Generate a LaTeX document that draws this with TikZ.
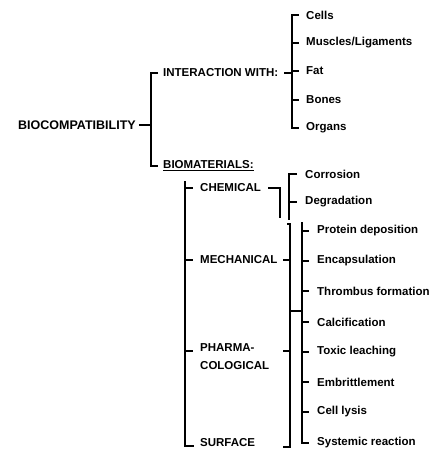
\documentclass[tikz,border=0pt]{standalone}
\usepackage{fontspec}
\setmainfont{Liberation Sans}
\usetikzlibrary{calc}

\begin{document}
\begin{tikzpicture}[x = 1pt, y = -1pt,
  lbl/.style = {anchor = west, inner sep = 0pt, align = left, font = \fontsize{11.5}{18}\selectfont\bfseries},
  big/.style = {lbl, font = \fontsize{12.5}{18}\selectfont\bfseries},
  br/.style = {line width = 1.5pt}]
\useasboundingbox (0, 0) rectangle (438, 456);
% spines of the brackets
\coordinate (spA) at (151, 0);
\coordinate (spB) at (292, 0);
\coordinate (spC) at (185, 0);
\coordinate (spE) at (289, 0);
\coordinate (spF) at (290, 0);
\coordinate (spG) at (302, 0);
% headings
\node[big] at (18, 125) (bio) {BIOCOMPATIBILITY};
\node[lbl] at (163, 73) (inter) {INTERACTION WITH:};
\node[lbl] at (163, 166) (biomat) {\underline{BIOMATERIALS:}};
\node[lbl] at (200, 188) (chem) {CHEMICAL};
\node[lbl] at (200, 260) (mech) {MECHANICAL};
\node[lbl] at (200, 357) (pharm) {PHARMA-\\COLOGICAL};
\node[lbl] at (200, 443) (surface) {SURFACE};
% leaves
\foreach \n/\y/\t in {cells/15/Cells, muscles/43/{Muscles/Ligaments}, fat/71/Fat, bones/100/Bones, organs/128/Organs}{
\node[lbl] at (306, \y) (\n) {\t};}
\foreach \n/\y/\t in {corr/174/Corrosion, degr/202/Degradation}{
\node[lbl] at (305, \y) (\n) {\t};}
\foreach \n/\y/\t in {protein/231/Protein deposition, encaps/261/Encapsulation, thromb/291/Thrombus formation, calcif/322/Calcification, toxic/352/Toxic leaching, embrit/382/Embrittlement, lysis/412/Cell lysis, systemic/443/Systemic reaction}{
\node[lbl] at (317, \y) (\n) {\t};}
% root bracket
\draw[br] ([xshift = 3pt]bio.east) -- (bio -| spA);
\draw[br] ([xshift = -5pt]inter.west) -- (inter -| spA) -- (biomat -| spA) -- ([xshift = -5pt]biomat.west);
% interaction bracket
\draw[br] ([xshift = 6pt]inter.east) -- (inter -| spB);
\draw[br] ([xshift = -7pt]cells.west) -- (cells -| spB) -- (organs -| spB) -- ([xshift = -7pt]organs.west);
\foreach \n in {muscles, fat, bones}{\draw[br] (\n -| spB) -- ([xshift = -7pt]\n.west);}
% biomaterials bracket
\coordinate (ctop) at (185, 181);
\coordinate (cbot) at (185, 446);
\coordinate (pharmtick) at ([yshift = -7pt]pharm.north west);
\draw[br] (ctop) -- (cbot) -- ([xshift = -6pt]cbot -| surface.west);
\foreach \n in {chem, mech, pharmtick}{\draw[br] (\n -| spC) -- ++(8, 0);}
% chemical
\coordinate (chemend) at (280, 218);
\draw[br] ([xshift = 7pt]chem.east) -| (chemend);
\coordinate (corrend) at (289, 220);
\draw[br] ([xshift = -8pt]corr.west) -- (corr -| spE) -- (corrend);
\draw[br] (degr -| spE) -- ([xshift = -8pt]degr.west);
% mechanical, pharmacological, surface
\coordinate (ftop) at (290, 224);
\coordinate (fbot) at (290, 447);
\draw[br] ([xshift = -3pt]ftop) -- (ftop) -- (fbot) -- ([xshift = -7pt]fbot);
\foreach \n in {mech, pharmtick}{\draw[br] (\n -| spF) -- ++(-7, 0);}
\coordinate (flink) at (290, 311);
\draw[br] (flink) -- (flink -| spG);
\coordinate (gtop) at (302, 222);
\draw[br] (gtop) -- (systemic -| spG) -- ([xshift = -8pt]systemic.west);
\foreach \n in {protein, encaps, thromb, calcif, toxic, embrit, lysis}{\draw[br] (\n -| spG) -- ([xshift = -8pt]\n.west);}
\end{tikzpicture}
\end{document}
